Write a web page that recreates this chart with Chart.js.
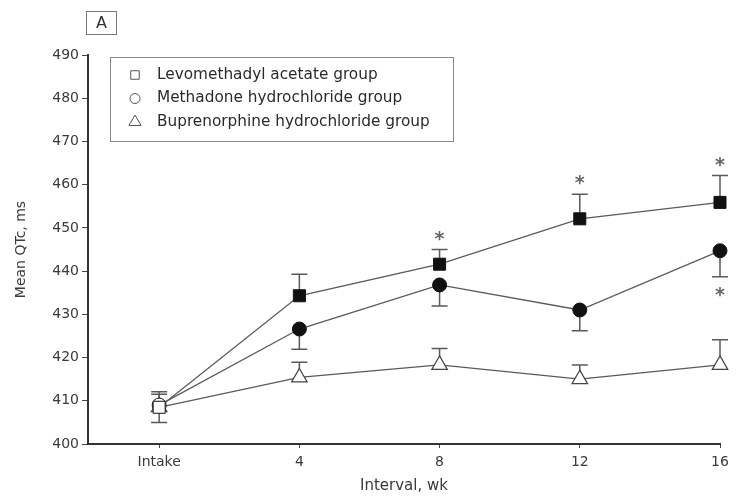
<!DOCTYPE html>
<html>
<head>
<meta charset="utf-8">
<script src="https://cdn.jsdelivr.net/npm/chart.js@4"></script>
<style>
  body { margin: 0; background: #fff; }
  canvas { display: block; }
</style>
</head>
<body>
<canvas id="qtcChart" width="744" height="497"></canvas>
<script>
// data
const weeks = [0, 4, 8, 12, 16];
const weekLabels = ['Intake', '4', '8', '12', '16'];
const yTicks = [400, 410, 420, 430, 440, 450, 460, 470, 480, 490];

const levoValues = [408.5, 434.3, 441.6, 452.1, 455.9];
const levoErrors = [3.0, 5.0, 3.4, 5.7, 6.2];      // drawn upward
const methValues = [409.0, 426.6, 436.8, 431.0, 444.7];
const methErrors = [4.0, 4.7, 4.9, 4.8, 6.0];      // drawn downward
const bupValues = [408.5, 415.4, 418.3, 415.0, 418.3];
const bupErrors = [3.6, 3.5, 3.8, 3.3, 5.8];       // drawn upward

const levoStars = [false, false, true, true, true]; // asterisk above
const methStars = [false, false, false, false, true]; // asterisk below

const groupNames = ['Levomethadyl acetate group', 'Methadone hydrochloride group', 'Buprenorphine hydrochloride group'];

const FONT = "'DejaVu Sans', sans-serif";
const lineGray = '#5a5a5a';

function toPoints(vals) {
  return weeks.map(function(w, i) { return { x: w, y: vals[i] }; });
}

// intake markers are open, the rest filled
function fills(vals) {
  return vals.map(function(v, i) { return i === 0 ? '#fff' : '#111'; });
}

// error bars drawn under the markers
const errorBars = {
  id: 'errorBars',
  beforeDatasetsDraw(chart) {
    const ctx = chart.ctx;
    const yScale = chart.scales.y;
    ctx.save();
    ctx.strokeStyle = lineGray;
    ctx.lineWidth = 1.5;
    chart.data.datasets.forEach(function(ds, di) {
      const meta = chart.getDatasetMeta(di);
      meta.data.forEach(function(pt, i) {
        const v = ds.data[i].y;
        const end = ds.errDir > 0 ? v + ds.errors[i] : v - ds.errors[i];
        const yEnd = yScale.getPixelForValue(end);
        ctx.beginPath();
        ctx.moveTo(pt.x, pt.y);
        ctx.lineTo(pt.x, yEnd);
        ctx.moveTo(pt.x - 8, yEnd);
        ctx.lineTo(pt.x + 8, yEnd);
        ctx.stroke();
      });
    });
    ctx.restore();
  },
  afterDatasetsDraw(chart) {
    // significance asterisks
    const ctx = chart.ctx;
    const yScale = chart.scales.y;
    ctx.save();
    ctx.fillStyle = '#666';
    ctx.font = 'bold 19px ' + FONT;
    ctx.textAlign = 'center';
    ctx.textBaseline = 'alphabetic';
    const levoMeta = chart.getDatasetMeta(0);
    levoStars.forEach(function(s, i) {
      if (!s) return;
      const cap = yScale.getPixelForValue(levoValues[i] + levoErrors[i]);
      ctx.fillText('*', levoMeta.data[i].x, cap - 5);
    });
    const methMeta = chart.getDatasetMeta(1);
    methStars.forEach(function(s, i) {
      if (!s) return;
      const cap = yScale.getPixelForValue(methValues[i] - methErrors[i]);
      ctx.fillText('*', methMeta.data[i].x, cap + 24);
    });
    ctx.restore();
  }
};

// boxed legend and panel letter
const boxLegend = {
  id: 'boxLegend',
  afterDraw(chart) {
    const ctx = chart.ctx;
    ctx.save();
    // panel letter
    ctx.strokeStyle = '#777';
    ctx.lineWidth = 1;
    ctx.strokeRect(86.5, 11.5, 30, 23);
    ctx.fillStyle = '#333';
    ctx.font = '16px ' + FONT;
    ctx.textAlign = 'center';
    ctx.textBaseline = 'middle';
    ctx.fillText('A', 101.5, 23.5);

    // legend box
    ctx.strokeStyle = '#888';
    ctx.strokeRect(110.5, 57.5, 343, 84);
    const styles = ['rect', 'circle', 'triangle'];
    const radii = [6, 5, 7];
    ctx.textAlign = 'left';
    ctx.font = '15.3px ' + FONT;
    groupNames.forEach(function(name, i) {
      const y = 75 + i * 23.5;
      ctx.strokeStyle = '#555';
      ctx.fillStyle = '#fff';
      Chart.helpers.drawPoint(ctx, { pointStyle: styles[i], radius: radii[i], rotation: 0, borderWidth: 1.2 }, 135, y);
      ctx.fillStyle = '#2a2a2a';
      ctx.fillText(name, 157, y);
    });
    ctx.restore();
  }
};

const ctx = document.getElementById('qtcChart').getContext('2d');
const qtcChart = new Chart(ctx, {
  type: 'line',
  data: {
    datasets: [{
      label: groupNames[0],
      data: toPoints(levoValues),
      errors: levoErrors,
      errDir: 1,
      pointStyle: 'rect',
      pointRadius: 8.5,
      pointBackgroundColor: fills(levoValues),
      pointBorderColor: '#111',
      pointBorderWidth: 1,
      borderColor: lineGray,
      borderWidth: 1.3,
      tension: 0,
      clip: false
    }, {
      label: groupNames[1],
      data: toPoints(methValues),
      errors: methErrors,
      errDir: -1,
      pointStyle: 'circle',
      pointRadius: 7,
      pointBackgroundColor: fills(methValues),
      pointBorderColor: '#111',
      pointBorderWidth: 1,
      borderColor: lineGray,
      borderWidth: 1.3,
      tension: 0,
      clip: false
    }, {
      label: groupNames[2],
      data: toPoints(bupValues),
      errors: bupErrors,
      errDir: 1,
      pointStyle: 'triangle',
      pointRadius: 9,
      pointBackgroundColor: '#fff',
      pointBorderColor: '#444',
      pointBorderWidth: 1.2,
      borderColor: lineGray,
      borderWidth: 1.3,
      tension: 0,
      clip: false
    }]
  },
  options: {
    responsive: false,
    animation: false,
    layout: {
      padding: { left: 0, top: 55, right: 24, bottom: 0 }
    },
    plugins: {
      legend: { display: false },
      tooltip: { enabled: false }
    },
    scales: {
      x: {
        type: 'linear',
        min: -2.03,
        max: 16,
        afterBuildTicks: function(scale) {
          scale.ticks = weeks.map(function(w) { return { value: w }; });
        },
        afterFit: function(scale) { scale.height = 53; },
        grid: { display: true, drawOnChartArea: false, drawTicks: true, tickLength: 4, color: '#444' },
        border: { display: true, color: '#333', width: 2 },
        ticks: {
          color: '#3a3a3a',
          font: { family: FONT, size: 14 },
          padding: 6,
          maxRotation: 0,
          callback: function(value) {
            const i = weeks.indexOf(value);
            return i >= 0 ? weekLabels[i] : '';
          }
        },
        title: {
          display: true,
          text: 'Interval, wk',
          color: '#3a3a3a',
          font: { family: FONT, size: 15 },
          padding: { top: 0, bottom: 2 }
        }
      },
      y: {
        min: 400,
        max: 490,
        afterBuildTicks: function(scale) {
          scale.ticks = yTicks.map(function(v) { return { value: v }; });
        },
        afterFit: function(scale) { scale.width = 88; },
        grid: { display: true, drawOnChartArea: false, drawTicks: true, tickLength: 6, color: '#444' },
        border: { display: true, color: '#333', width: 2 },
        ticks: {
          color: '#3a3a3a',
          font: { family: FONT, size: 14 },
          padding: 3
        },
        title: {
          display: true,
          text: 'Mean QTc, ms',
          color: '#3a3a3a',
          font: { family: FONT, size: 14 },
          padding: { top: 13, bottom: 0 }
        }
      }
    }
  },
  plugins: [errorBars, boxLegend]
});
</script>
</body>
</html>
